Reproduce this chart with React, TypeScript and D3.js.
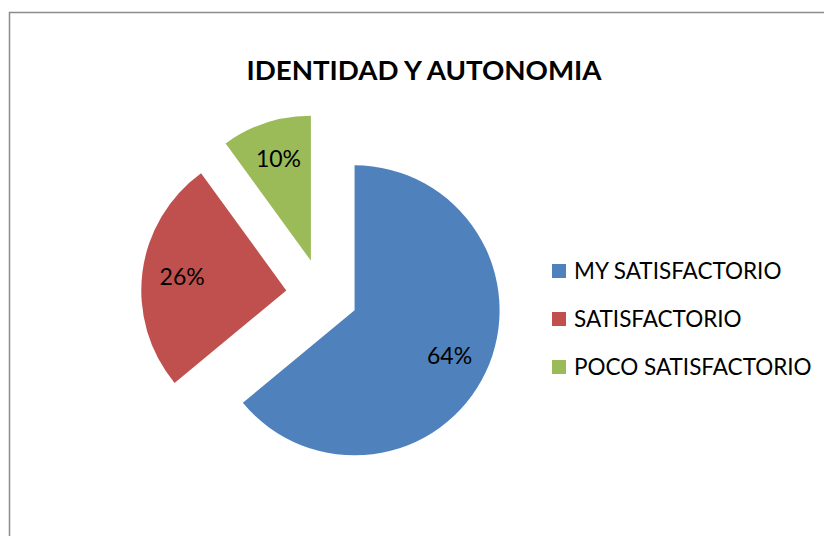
import { useEffect, useRef } from "react";
import * as d3 from "d3";

const categories = ["MY SATISFACTORIO", "SATISFACTORIO", "POCO SATISFACTORIO"];
const values = [64, 26, 10];
const colors = ["#4F81BD", "#C0504D", "#9BBB59"];
const title = "IDENTIDAD Y AUTONOMIA";

export default function App() {
  const ref = useRef<SVGSVGElement>(null);

  useEffect(() => {
    const svg = d3.select(ref.current);
    svg.selectAll("*").remove();
    const width = 824;
    const height = 536;
    const font = "Lato, 'Open Sans', sans-serif";

    svg.attr("width", width).attr("height", height);

    // marco del gráfico (se sale por la derecha y abajo)
    svg
      .append("rect")
      .attr("x", 9.5)
      .attr("y", 12.5)
      .attr("width", width + 20)
      .attr("height", height + 20)
      .attr("fill", "#fff")
      .attr("stroke", "#8c8c8c")
      .attr("stroke-width", 1.5);

    svg
      .append("text")
      .attr("x", 424)
      .attr("y", 80)
      .attr("text-anchor", "middle")
      .attr("font-family", font)
      .attr("font-weight", "bold")
      .attr("font-size", 26)
      .attr("textLength", 355)
      .attr("lengthAdjust", "spacingAndGlyphs")
      .text(title);

    const total = d3.sum(values);
    const pie = d3
      .pie<number>()
      .sort(null)
      .value((d) => d);
    const arcs = pie(values);

    const r = 145;
    const explode = 36;
    const cx = 322;
    const cy = 295;
    const arc = d3.arc<d3.PieArcDatum<number>>().innerRadius(0).outerRadius(r);

    const g = svg.append("g").attr("transform", `translate(${cx},${cy})`);

    const slice = g
      .selectAll("g.slice")
      .data(arcs)
      .enter()
      .append("g")
      .attr("class", "slice")
      .attr("transform", (d) => {
        const a = (d.startAngle + d.endAngle) / 2;
        return `translate(${explode * Math.sin(a)},${-explode * Math.cos(a)})`;
      });

    slice
      .append("path")
      .attr("d", arc)
      .attr("fill", (_, i) => colors[i]);

    slice
      .append("text")
      .attr("x", (d) => 105 * Math.sin((d.startAngle + d.endAngle) / 2))
      .attr("y", (d) => -107 * Math.cos((d.startAngle + d.endAngle) / 2))
      .attr("dy", "0.36em")
      .attr("text-anchor", "middle")
      .attr("font-family", font)
      .attr("font-size", 23)
      .attr("fill", "#000")
      .text((d) => `${Math.round((d.data / total) * 100)}%`);

    // leyenda
    const legend = svg
      .selectAll("g.legend")
      .data(categories)
      .enter()
      .append("g")
      .attr("class", "legend")
      .attr("transform", (_, i) => `translate(552,${271 + i * 48})`);

    legend
      .append("rect")
      .attr("x", 0)
      .attr("y", -7)
      .attr("width", 14)
      .attr("height", 14)
      .attr("fill", (_, i) => colors[i]);

    legend
      .append("text")
      .attr("x", 22)
      .attr("y", 0)
      .attr("dy", "0.36em")
      .attr("font-family", font)
      .attr("font-size", 22.5)
      .attr("fill", "#000")
      .text((d) => d);
  }, []);

  return <svg ref={ref} style={{ position: "absolute", left: 0, top: 0 }}></svg>;
}
